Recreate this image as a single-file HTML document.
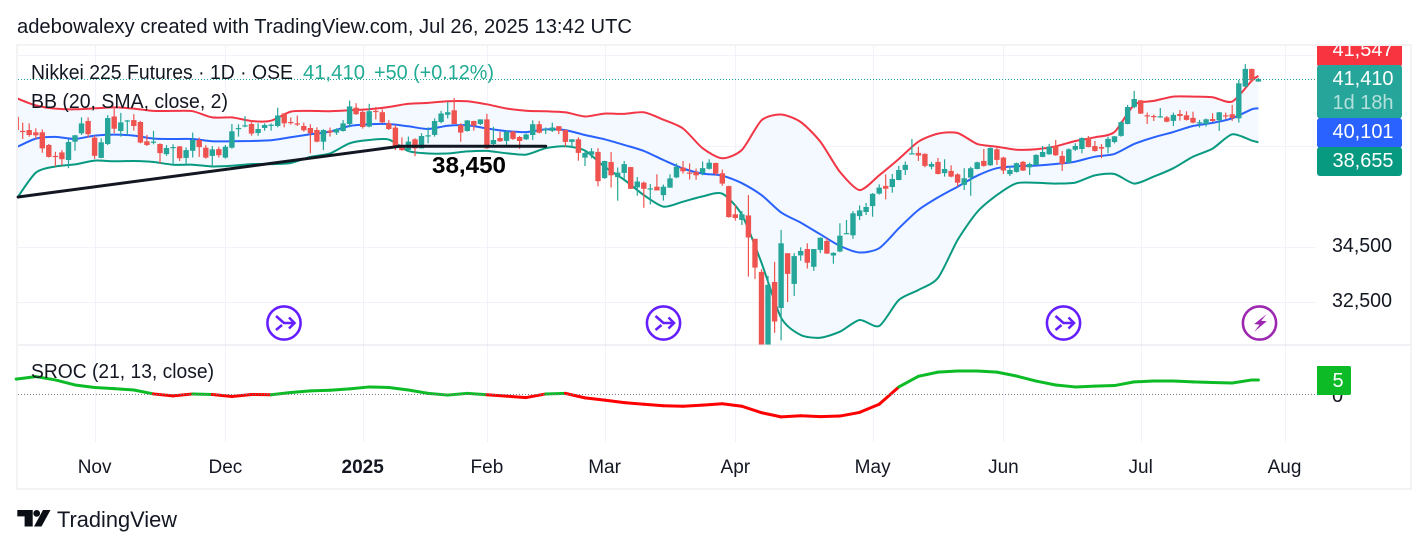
<!DOCTYPE html>
<html lang="en">
<head>
<meta charset="utf-8">
<title>Nikkei 225 Futures chart</title>
<style>
html,body{margin:0;padding:0;background:#fff;width:1428px;height:549px;overflow:hidden}
svg{display:block}
text{font-family:"Liberation Sans",sans-serif}
</style>
</head>
<body>
<svg id="chart" xmlns="http://www.w3.org/2000/svg" width="1428" height="549" viewBox="0 0 1428 549">
  <defs>
    <clipPath id="mainClip"><rect x="18" y="46" width="1298" height="299"/></clipPath>
    <clipPath id="axisClip"><rect x="1310" y="46" width="100" height="140"/></clipPath>
  </defs>
  <rect x="0" y="0" width="1428" height="549" fill="#ffffff"/>
  <text x="17" y="33" font-size="20" fill="#131722" textLength="615" lengthAdjust="spacingAndGlyphs">adebowalexy created with TradingView.com, Jul 26, 2025 13:42 UTC</text>
  <rect x="17" y="45" width="1394" height="444" fill="none" stroke="#f3f3f3" stroke-width="2"/>

  <g id="grid"></g>
  <g id="plot" clip-path="url(#mainClip)"></g>
  <g id="sroc"></g>
  <g id="annot"></g>
  <g id="xaxis"></g>
  <g id="yaxis"></g>

  <line x1="18" y1="345" x2="1410" y2="345" stroke="#e0e3eb" stroke-width="1"/>

  <text x="432" y="173" font-size="23" font-weight="700" fill="#000000" textLength="74" lengthAdjust="spacingAndGlyphs">38,450</text>

  <text x="31" y="79" font-size="20" fill="#131722" textLength="262" lengthAdjust="spacingAndGlyphs">Nikkei 225 Futures · 1D · OSE</text>
  <text x="303" y="79" font-size="20" fill="#22ab94" textLength="62" lengthAdjust="spacingAndGlyphs">41,410</text>
  <text x="374" y="79" font-size="20" fill="#22ab94" textLength="120" lengthAdjust="spacingAndGlyphs">+50 (+0.12%)</text>
  <text x="31" y="108" font-size="20" fill="#131722" textLength="197" lengthAdjust="spacingAndGlyphs">BB (20, SMA, close, 2)</text>
  <text x="31" y="378" font-size="20" fill="#131722" textLength="183" lengthAdjust="spacingAndGlyphs">SROC (21, 13, close)</text>

  <g transform="translate(284,323)" fill="none" stroke="#651fff" stroke-width="2.6">
    <circle r="16.6" fill="#ffffff"/><path d="M-8,-7 L0,0 L10.5,0 M-8,7 L-2,2 M5,-5.5 L10.5,0 L5,5.5"/>
  </g>
  <g transform="translate(663.5,323)" fill="none" stroke="#651fff" stroke-width="2.6">
    <circle r="16.6" fill="#ffffff"/><path d="M-8,-7 L0,0 L10.5,0 M-8,7 L-2,2 M5,-5.5 L10.5,0 L5,5.5"/>
  </g>
  <g transform="translate(1063.5,323)" fill="none" stroke="#651fff" stroke-width="2.6">
    <circle r="16.6" fill="#ffffff"/><path d="M-8,-7 L0,0 L10.5,0 M-8,7 L-2,2 M5,-5.5 L10.5,0 L5,5.5"/>
  </g>
  <g transform="translate(1259.5,323)">
    <circle r="16.6" fill="#ffffff" stroke="#9c27b0" stroke-width="2.6"/>
    <path d="M7.3,-9 L-5.3,1 L0,1.7 L-5.3,8.7 L7.3,-1.7 L1.7,-2.3 Z" fill="#9c27b0"/>
  </g>

  <g clip-path="url(#axisClip)">
    <rect x="1317" y="36" width="85" height="31" rx="3" fill="#f7343f"/>
    <text x="1363" y="56" font-size="20" fill="#ffffff" text-anchor="middle" textLength="61" lengthAdjust="spacingAndGlyphs">41,547</text>
  </g>
  <rect x="1317" y="65" width="85" height="53.5" rx="3" fill="#26a69a"/>
  <text x="1363" y="85" font-size="20" fill="#ffffff" text-anchor="middle" textLength="61" lengthAdjust="spacingAndGlyphs">41,410</text>
  <text x="1363" y="109" font-size="20" fill="#ffffff" fill-opacity="0.65" text-anchor="middle" textLength="61" lengthAdjust="spacingAndGlyphs">1d 18h</text>
  <rect x="1317" y="118" width="85" height="30" rx="3" fill="#2962ff"/>
  <text x="1363" y="138" font-size="20" fill="#ffffff" text-anchor="middle" textLength="61" lengthAdjust="spacingAndGlyphs">40,101</text>
  <rect x="1317" y="147" width="85" height="29" rx="3" fill="#089981"/>
  <text x="1363" y="167" font-size="20" fill="#ffffff" text-anchor="middle" textLength="61" lengthAdjust="spacingAndGlyphs">38,655</text>

  <text x="1332" y="402" font-size="20" fill="#131722">0</text>
  <path d="M1317,366 H1349 a2,2 0 0 1 2,2 V393 a2,2 0 0 1 -2,2 H1317 Z" fill="#0dbb27"/>
  <text x="1338" y="387" font-size="20" fill="#ffffff" text-anchor="middle">5</text>

  <g>
    <path d="M17.3,510 H32.7 V526.5 H24.6 V516.4 H17.3 Z M43,510 H50.5 L41.5,526.5 H34 Z" fill="#0b0e14"/>
    <circle cx="36.7" cy="513.4" r="3.4" fill="#0b0e14"/>
    <text x="57" y="527" font-size="22" fill="#131722" textLength="120" lengthAdjust="spacingAndGlyphs">TradingView</text>
  </g>
</svg>

<script>
// ---------- daily candles (prices in index points, oldest first) ----------
const opens = [
39739,39133,39175,39076,39076,38540,38089,38230,37920,38681,
39034,39556,38851,38005,38583,39753,39133,39556,39598,39513,
38696,38653,38583,38160,38428,38484,38005,38301,38752,38428,
38089,38371,38019,38428,39217,39344,39429,39048,39260,39372,
39344,39880,39513,39457,39344,39260,39175,38681,39147,39062,
39133,39429,40134,39951,39316,39993,39936,39457,39274,38540,
38329,38780,38400,38921,38964,39513,39824,40021,39387,39133,
39556,39429,39628,38585,38835,38710,39100,38877,38780,38961,
39419,39169,39141,39336,39169,38669,38780,38015,38140,38252,
37181,37835,37223,37390,37626,36806,37000,36740,36834,36500,
36795,37209,37612,37404,37432,37376,37557,37793,37376,36860,
35745,35525,35705,34810,33580,30960,33215,32290,34270,33145,
34185,34425,33765,34390,34725,34185,34330,35000,34940,35680,
35835,36065,36560,36865,36825,37105,37510,38180,38210,38170,
37645,37840,37385,37470,37330,36905,37200,37550,37880,37700,
38360,38015,37345,37430,37840,37620,37715,38045,38155,38500,
38085,37810,38345,38375,38835,38500,38455,38445,38665,38920,
39430,40165,40455,39805,39775,39730,39715,39560,39860,39805,
39690,39490,39430,39645,39590,39805,39850,39675,41065,41860,
41290];
const highs = [
39810,39485,39457,39246,39203,38583,38258,38329,38780,38964,
39711,39711,38935,38822,39810,40092,39908,39598,39852,39556,
38964,39133,38611,38540,38569,38498,38442,39062,38851,38540,
38498,38470,38540,39429,39415,39767,39598,39457,39457,39457,
40134,39908,39711,39795,39485,39415,39288,39203,39274,39246,
39598,40444,40331,39993,40303,40162,40063,39598,39387,38865,
38893,38822,39034,39288,39669,39993,40374,40557,39457,39598,
39570,39626,39864,39308,39100,39169,39141,38919,39030,39586,
39558,39280,39489,39336,39197,38780,38863,38307,38405,38405,
37890,38252,37612,37876,37640,37223,37042,36945,37334,36917,
37334,37779,37876,37779,37571,37862,37946,37807,37529,36875,
36120,35875,36500,34810,33680,33435,33945,35145,34270,34270,
34490,34640,34425,34860,34835,34305,35400,35525,35875,36090,
36190,36580,36930,37330,37345,37675,37850,38795,38470,38195,
37840,38000,37945,37700,37375,37580,37645,37850,38375,38445,
38430,38055,37675,37810,37880,37810,38155,38500,38585,38750,
38290,38400,38610,38865,38920,38710,38580,38890,38920,39560,
40250,40870,40470,39920,39835,40120,39775,39920,40035,39975,
39960,39605,39660,39890,39945,39920,40250,41360,42080,41860,
41450];
const lows = [
39147,38794,38893,38794,38216,38019,37652,37695,37582,38301,
38964,38851,37962,37991,38540,39034,38893,38964,39147,38611,
38498,38569,37765,38089,37723,37878,37765,38019,38047,37976,
37695,38019,37976,38385,38893,39288,38935,38935,39147,39147,
39288,39288,39401,39344,39105,38188,38653,38329,38893,38964,
39105,39288,39824,39231,39288,39626,39457,39175,38329,38301,
38258,38075,38400,38611,38893,39457,39669,39429,38681,39105,
39147,39387,38377,38474,38669,38544,38752,38377,38752,38752,
39030,39002,39086,39002,38474,38446,37890,37668,37988,36848,
37153,36806,36280,37153,36740,36475,36000,36130,36685,36280,
36795,37181,37362,37126,37112,37293,37529,37293,36875,35615,
35500,35335,33410,33320,30960,30960,31430,31170,32500,32715,
33990,33705,33615,34270,34245,33880,34305,35000,34810,35525,
35720,35655,36520,36330,36595,37090,37305,38170,37880,37620,
37535,37330,37240,37210,36840,36700,36475,37535,37645,37675,
37715,37345,37265,37400,37470,37305,37700,38030,38130,38085,
37470,37795,38290,38195,38445,38265,38000,38195,38610,38890,
39415,40105,39860,39430,39560,39705,39505,39345,39575,39575,
39460,39275,39315,39520,39135,39630,39560,39490,41035,41255,
41290];
const closes = [
39175,39090,38964,38950,38400,38047,38061,37948,38667,38950,
39457,38992,38089,38653,39683,39231,39499,39584,39344,38639,
38540,38681,38202,38414,38456,37991,38329,38752,38456,38019,
38357,38117,38470,39119,39260,39372,39020,39217,39387,39401,
39795,39457,39485,39429,39161,39034,38681,39175,39062,39217,
39457,40190,39852,39302,39979,39965,39499,39217,38470,38329,
38681,38400,38921,38950,39556,39880,39936,39429,39062,39584,
39358,39626,38405,38752,38696,39100,38794,38710,38988,39419,
39058,39211,39280,39141,38669,38780,38210,38210,38279,37056,
37876,37293,37404,37751,36750,37042,36750,36765,36685,36834,
37167,37640,37459,37376,37293,37585,37807,37362,36960,35640,
35600,35745,34860,33740,30960,33110,31820,34640,33510,34160,
34350,33915,34425,34850,34255,34280,34925,35025,35785,35900,
36030,36550,36800,36755,37145,37510,37715,38195,38100,37675,
37755,37345,37550,37240,36995,37170,37580,37825,37675,38415,
37920,37485,37510,37785,37485,37755,38130,38250,38470,38115,
37755,38360,38500,38835,38455,38290,38390,38795,38905,39505,
40165,40515,39875,39760,39745,39760,39530,39820,39775,39605,
39490,39505,39630,39560,39935,39775,39690,41210,41860,41345,
41410];

// ---------- Bollinger Bands, one reading every bbStride bars ----------
const bbStride = 3;
const bbUpper = [
40557,40233,40092,40063,40106,40148,40092,39993,39993,39979,39711,39711,
39556,39570,39965,39993,39979,40021,40063,40162,40303,40345,40416,40416,
40281,40100,40003,39975,39934,39753,39878,39864,39934,39614,39239,38405,
37988,38335,39586,39836,39516,38683,37432,36700,37293,
37960,38680,39020,39045,38585,38470,38345,38360,38485,38710,38865,39090,
40260,40430,40620,40620,40590,40400,41330,41547];
const bbMiddle = [
38442,38808,38879,38794,38935,38978,38935,38808,38794,38794,38696,38696,
38710,38738,38865,38992,39105,39344,39415,39429,39330,39217,39358,39372,
39239,39127,39086,39197,39169,38961,38780,38544,38293,37918,37570,37362,
37279,36973,36500,35820,35425,34980,34540,34295,34455,
35207,35914,36410,36834,37278,37580,37660,37690,37755,37850,38055,38170,
38585,38865,39090,39345,39475,39675,40065,40101];
const bbLower = [
36330,37400,37652,37737,37892,37864,37878,37836,37723,37723,37652,37680,
37751,37751,37793,38047,38188,38611,38752,38766,38287,38188,38188,38273,
38293,38196,38140,38405,38488,38307,37640,37112,36500,36045,36240,36450,
36555,35725,33915,31950,31355,31265,31470,31870,31665,
32570,32926,33360,34763,35837,36500,36970,36990,36960,37000,37290,37345,
36960,37240,37580,38055,38390,38990,38725,38655];

// ---------- SROC, same sampling as the bands ----------
const srocValues = [
5.5,6.4,5.2,3.4,2.5,2.1,1.6,0.2,-0.5,0.2,0.0,-0.7,0.0,-0.1,0.7,1.3,1.5,2.0,2.7,2.5,1.6,0.4,-0.2,0.4,
-0.1,-0.6,-1.1,0.2,0.4,-1.2,-2.0,-2.9,-3.5,-4.0,-4.2,-3.8,-3.3,-4.2,-6.5,-8.0,-7.6,-7.9,-7.7,-6.4,-3.5,2.7,6.5,
8.0,8.4,8.4,8.0,6.6,4.8,3.4,2.7,3.0,3.2,4.5,4.8,4.8,4.5,4.3,4.1,5.2,5.2];

// ---------- axes ----------
const timeLabels = ["Nov","Dec","2025","Feb","Mar","Apr","May","Jun","Jul","Aug"];
const timeTickBars = [12,32,53,72,90,110,131,151,172,194];
const priceGridLevels = [32500,34500,38500,42500];
const priceTickLevels = [34500,32500];
const priceTickLabels = ["34,500","32,500"];
const lastPrice = 41410;

// ---------- drawn trend lines: bar index and price of each anchor ----------
const trendBars = [0.3,58.7,81];
const trendPrices = [36425,38490,38490];

function xOf(bar){ return 16.16 + 6.538 * bar; }
function yOf(price){ return 247 - 921 * Math.log(price / 34500); }
function ySroc(v){ return 394.5 - 2.8 * v; }

const NS = 'http://www.w3.org/2000/svg';
function mk(tag, parent, attrs){
  const node = document.createElementNS(NS, tag);
  for (const k in attrs) node.setAttribute(k, attrs[k]);
  document.getElementById(parent).appendChild(node);
  return node;
}
function bbBar(k){ return Math.min(k * bbStride, opens.length - 1); }
function linePoints(arr){
  return arr.map(function(v,k){ return [xOf(bbBar(k)), yOf(v)]; });
}
// Smooth curve through the readings (Catmull-Rom, softened tension)
function curve(pts){
  let d = '';
  for (let i = 0; i < pts.length - 1; i++){
    const p0 = pts[Math.max(i-1,0)], p1 = pts[i], p2 = pts[i+1], p3 = pts[Math.min(i+2,pts.length-1)];
    const c1x = p1[0] + (p2[0]-p0[0])/8, c1y = p1[1] + (p2[1]-p0[1])/8;
    const c2x = p2[0] - (p3[0]-p1[0])/8, c2y = p2[1] - (p3[1]-p1[1])/8;
    d += ' C' + c1x.toFixed(1) + ',' + c1y.toFixed(1) + ' ' + c2x.toFixed(1) + ',' + c2y.toFixed(1) + ' ' + p2[0].toFixed(1) + ',' + p2[1].toFixed(1);
  }
  return d;
}
function openCurve(pts){ return 'M' + pts[0][0].toFixed(1) + ',' + pts[0][1].toFixed(1) + curve(pts); }

// grid
timeTickBars.forEach(function(b){
  const g = Math.round(xOf(b)) + 0.5;
  const el = mk('line','grid',{x1:g,x2:g,y1:46,y2:442,stroke:'#f0f3fa','stroke-width':1});
  
  
});
priceGridLevels.forEach(function(p){
  const g = Math.round(yOf(p)) + 0.5;
  const el = mk('line','grid',{x1:18,x2:1316,y1:g,y2:g,stroke:'#f0f3fa','stroke-width':1});
  
  
});

// Bollinger fill and band lines
(function(){
  const upperPts = linePoints(bbUpper);
  const lowerPts = linePoints(bbLower);
  const backPts = lowerPts.slice().reverse();
  const fillPath = openCurve(upperPts) + ' L' + backPts[0][0].toFixed(1) + ',' + backPts[0][1].toFixed(1) + curve(backPts) + ' Z';
  const fill = mk('path','plot',{d:fillPath,fill:'#f3f9fe'});
  
  

  const up = mk('path','plot',{d:openCurve(upperPts),fill:'none',stroke:'#f23645','stroke-width':2,'stroke-linejoin':'round'});
  
  

  const mid = mk('path','plot',{d:openCurve(linePoints(bbMiddle)),fill:'none',stroke:'#2962ff','stroke-width':2,'stroke-linejoin':'round'});
  
  

  const low = mk('path','plot',{d:openCurve(lowerPts),fill:'none',stroke:'#089981','stroke-width':2,'stroke-linejoin':'round'});
  
  
})();

// candles
opens.forEach(function(o,i){
  const c = closes[i];
  const colour = c >= o ? '#26a69a' : '#ef5350';
  const cx = xOf(i);
  const wick = mk('rect','plot',{x:(cx-0.6).toFixed(1),y:yOf(highs[i]).toFixed(1),width:1.2,height:(yOf(lows[i])-yOf(highs[i])).toFixed(1),fill:colour});
  
  
  const top = yOf(Math.max(o,c));
  const h = Math.max(1.2, yOf(Math.min(o,c)) - top);
  const body = mk('rect','plot',{x:(cx-2.7).toFixed(1),y:top.toFixed(1),width:5.4,height:h.toFixed(1),fill:colour});
  
  
});

// last price line
(function(){
  const g = Math.round(yOf(lastPrice)) + 0.5;
  const el = mk('line','plot',{x1:18,x2:1316,y1:g,y2:g,stroke:'#26a69a','stroke-width':1,'stroke-dasharray':'1 2'});
  
  
})();

// trend lines
trendBars.slice(1).forEach(function(b,k){
  const el = mk('line','annot',{x1:xOf(trendBars[k]),y1:yOf(trendPrices[k]),x2:xOf(b),y2:yOf(trendPrices[k+1]),stroke:'#131722','stroke-width':3,'stroke-linecap':'round'});
  
  
});

// SROC
srocValues.slice(1).forEach(function(v,k){
  const prev = srocValues[k];
  const colour = (v + prev) / 2 >= 0 ? '#0dbb27' : '#ff0000';
  const el = mk('line','sroc',{x1:xOf(bbBar(k)),y1:ySroc(prev),x2:xOf(bbBar(k+1)),y2:ySroc(v),stroke:colour,'stroke-width':3,'stroke-linecap':'round'});
  
  
});
(function(){
  const el = mk('line','sroc',{x1:18,x2:1317,y1:ySroc(0),y2:ySroc(0),stroke:'#787b86','stroke-width':1,'stroke-dasharray':'1 2'});
  
  
})();

// time axis labels
timeLabels.forEach(function(t,k){
  const el = mk('text','xaxis',{x:xOf(timeTickBars[k]),y:473,'font-size':19,'text-anchor':'middle',fill:'#131722','font-weight':t === '2025' ? 700 : 400});
  el.textContent = t;
  
  
});

// price axis labels
priceTickLevels.forEach(function(p,k){
  const el = mk('text','yaxis',{x:1332,y:yOf(p)+5,'font-size':20,fill:'#131722',textLength:60,lengthAdjust:'spacingAndGlyphs'});
  el.textContent = priceTickLabels[k];
  
  
});
</script>
</body>
</html>
